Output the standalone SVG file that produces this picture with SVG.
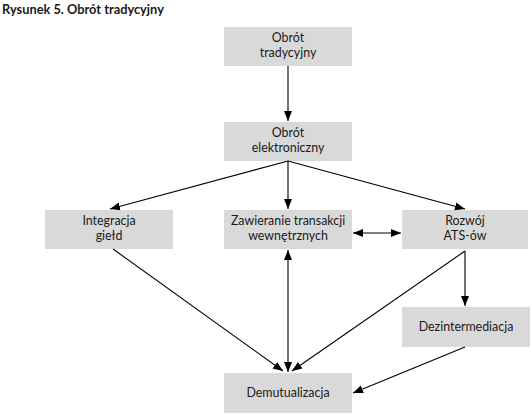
<svg xmlns="http://www.w3.org/2000/svg" width="532" height="415" viewBox="0 0 532 415">
<defs>
<marker id="ah" viewBox="0 0 10 10" refX="10" refY="5" markerWidth="10" markerHeight="10" markerUnits="userSpaceOnUse" orient="auto-start-reverse">
<path d="M0,1 L10,5 L0,9 Z" fill="#000"/>
</marker>
<style>
.box{fill:#d9d9d9;stroke:none}
.t{font-family:Lato,"Open Sans",sans-serif;font-size:12.4px;fill:#1a1a1a;text-anchor:middle}
.c{stroke:#000;stroke-width:1.1;fill:none;marker-end:url(#ah)}
.d{marker-start:url(#ah)}
</style>
</defs>
<rect width="532" height="415" fill="#fff"/>
<text x="2" y="14" font-family="Lato,'Open Sans',sans-serif" font-size="12.8" font-weight="bold" fill="#1a1a1a">Rysunek 5. Obrót tradycyjny</text>
<g id="n1"><rect class="box" x="224" y="27" width="128" height="39"/><text class="t" x="288" y="42">Obrót</text><text class="t" x="288" y="57">tradycyjny</text></g>
<g id="n2"><rect class="box" x="224" y="122" width="128" height="39"/><text class="t" x="288" y="137">Obrót</text><text class="t" x="288" y="152">elektroniczny</text></g>
<g id="n3"><rect class="box" x="45" y="210" width="128" height="39"/><text class="t" x="109" y="225">Integracja</text><text class="t" x="109" y="240">giełd</text></g>
<g id="n4"><rect class="box" x="224" y="210" width="128" height="39"/><text class="t" x="288" y="225">Zawieranie transakcji</text><text class="t" x="288" y="240">wewnętrznych</text></g>
<g id="n5"><rect class="box" x="402" y="210" width="126" height="39"/><text class="t" x="465" y="225">Rozwój</text><text class="t" x="465" y="240">ATS-ów</text></g>
<g id="n6"><rect class="box" x="402" y="307" width="128" height="40"/><text class="t" x="466" y="331">Dezintermediacja</text></g>
<g id="n7"><rect class="box" x="224" y="373" width="128" height="40"/><text class="t" x="288" y="397">Demutualizacja</text></g>
<g id="connectors">
<line class="c" x1="288" y1="66" x2="288" y2="121"/>
<line class="c" x1="288" y1="161" x2="110" y2="209"/>
<line class="c" x1="288" y1="161" x2="288" y2="209"/>
<line class="c" x1="288" y1="161" x2="465" y2="209"/>
<line class="c d" x1="353" y1="233" x2="401" y2="233"/>
<line class="c" x1="113" y1="249" x2="283" y2="371"/>
<line class="c d" x1="288" y1="250" x2="288" y2="372"/>
<line class="c" x1="465" y1="251" x2="292" y2="371"/>
<line class="c" x1="465" y1="251" x2="465" y2="306"/>
<line class="c" x1="465" y1="347" x2="353" y2="393"/>
</g>
</svg>
